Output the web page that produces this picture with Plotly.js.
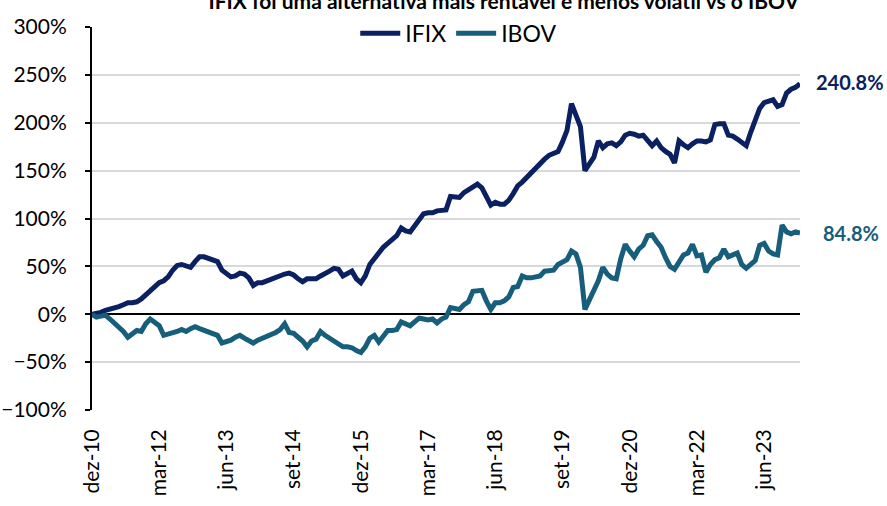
<!DOCTYPE html>
<html>
<head>
<meta charset="utf-8">
<script src="https://cdn.plot.ly/plotly-3.0.1.min.js"></script>
<style>html,body{margin:0;padding:0;background:#fff;}#chart{width:887px;height:506px;}</style>
</head>
<body>
<div id="chart"></div>
<script>
// Monthly cumulative returns (%) from dez-10 to fev-24
const ifix = [0,0.5,2,4,5,6,8,10,12,12,13,16,20,24,29,33,35,39,46,51,52,51,49,55,60,60,58,56,55,46,
43,39,40,43,42,38,30,33,33,35,36,38,41,42,43,41,37,34,37,37,37,40,42,45,48,47,40,43,45,37,
33,40,52,58,65,70,74,78,82,90,87,86,93,100,105,106,106,108,109,109,123,123,122,127,130,133,136,132,122,114,
117,115,115,119,126,134,138,143,148,153,157,162,166,168,170,180,192,220,208,196,150,158,164,181,174,178,179,176,180,187,
189,188,186,187,182,176,181,174,170,167,158,181,177,174,178,181,181,180,182,198,199,199,187,186,183,180,176,190,203,215,
221,223,224,217,219,231,235,237,240.8];
const ibov = [0,-3,-2,-1,-5,-9,-13,-18,-24,-20,-17,-18,-10,-5,-8,-12,-22,-21,-20,-18,-16,-18,-15,-13,-15,-17,-18,-20,-22,-30,
-29,-27,-24,-22,-25,-27,-30,-27,-25,-24,-22,-19,-16,-10,-19,-20,-24,-28,-34,-28,-26,-18,-22,-25,-27,-31,-34,-34,-35,-38,
-40,-34,-25,-22,-29,-23,-17,-17,-16,-8,-10,-12,-8,-4,-5,-6,-5,-9,-5,-3,7,6,5,10,13,24,24,25,14,5,
12,12,14,18,28,29,40,38,38,39,40,45,46,46,52,55,57,66,63,49,5,15,25,35,49,42,38,37,58,73,
66,60,68,72,82,83,76,70,59,50,47,54,62,64,73,61,62,44,52,57,59,68,60,62,64,52,48,52,56,72,
74,66,63,62,93,86,84,86,84.8];
const monthNames = ['jan','fev','mar','abr','mai','jun','jul','ago','set','out','nov','dez'];
const tickLabels = ['dez-10','mar-12','jun-13','set-14','dez-15','mar-17','jun-18','set-19','dez-20','mar-22','jun-23'];
const seriesNames = ['IFIX','IBOV'];
const endLabels = ['240.8%','84.8%'];
const chartTitle = 'IFIX foi uma alternativa mais rentável e menos volátil vs o IBOV';

// category labels, one per month starting dez-10
const months = [];
for (let i = 0; i < ifix.length; i++) {
  const m = (11 + i) % 12;
  const y = 10 + Math.floor((11 + i) / 12);
  months.push(monthNames[m] + '-' + String(y).padStart(2, '0'));
}

const colIFIX = '#0a2060';
const colIBOV = '#165e7b';
const font = 'Lato, "Open Sans", sans-serif';

const traces = [
  {x: months, y: ifix, name: seriesNames[0], type: 'scatter', mode: 'lines',
   line: {color: colIFIX, width: 5}},
  {x: months, y: ibov, name: seriesNames[1], type: 'scatter', mode: 'lines',
   line: {color: colIBOV, width: 5}}
];

const layout = {
  width: 887, height: 506,
  margin: {l: 92, r: 87, t: 22, b: 96},
  paper_bgcolor: '#fff', plot_bgcolor: '#fff',
  font: {family: font, size: 21, color: '#000'},
  title: {text: '<b>' + chartTitle + '</b>', x: 0.568, xref: 'container', xanchor: 'center',
          y: 0.996, yref: 'container', yanchor: 'middle',
          font: {family: font, size: 21, color: '#000'}},
  showlegend: true,
  legend: {orientation: 'h', x: 0.518, xanchor: 'center', y: 1.04, yanchor: 'top',
           font: {family: font, size: 23, color: '#000'}, bgcolor: 'rgba(0,0,0,0)',
           itemwidth: 40, traceorder: 'normal'},
  xaxis: {type: 'category', range: [0, ifix.length - 1],
          tickmode: 'array', tickvals: tickLabels, ticktext: tickLabels,
          tickangle: -90, ticks: '', showgrid: false, showline: false, zeroline: false,
          ticklabelstandoff: 14,
          tickfont: {family: font, size: 21, color: '#000'}},
  yaxis: {range: [-100, 300], dtick: 50, tick0: 0, ticksuffix: '%',
          showgrid: true, gridcolor: '#d9d9d9', gridwidth: 2,
          zeroline: true, zerolinecolor: '#000', zerolinewidth: 2,
          showline: true, linecolor: '#000', linewidth: 2,
          ticks: 'outside', ticklen: 5, tickcolor: '#000', tickwidth: 2,
          ticklabelstandoff: 14,
          tickfont: {family: font, size: 21, color: '#000'}},
  annotations: [
    {x: months[months.length - 1], y: ifix[ifix.length - 1], xref: 'x', yref: 'y',
     text: '<b>' + endLabels[0] + '</b>', showarrow: false, xanchor: 'center', yanchor: 'middle',
     xshift: 50, yshift: 2, font: {family: font, size: 20, color: colIFIX}},
    {x: months[months.length - 1], y: ibov[ibov.length - 1], xref: 'x', yref: 'y',
     text: '<b>' + endLabels[1] + '</b>', showarrow: false, xanchor: 'center', yanchor: 'middle',
     xshift: 51, yshift: 0, font: {family: font, size: 20, color: colIBOV}}
  ]
};

Plotly.newPlot('chart', traces, layout, {displayModeBar: false, staticPlot: true});
</script>
</body>
</html>
